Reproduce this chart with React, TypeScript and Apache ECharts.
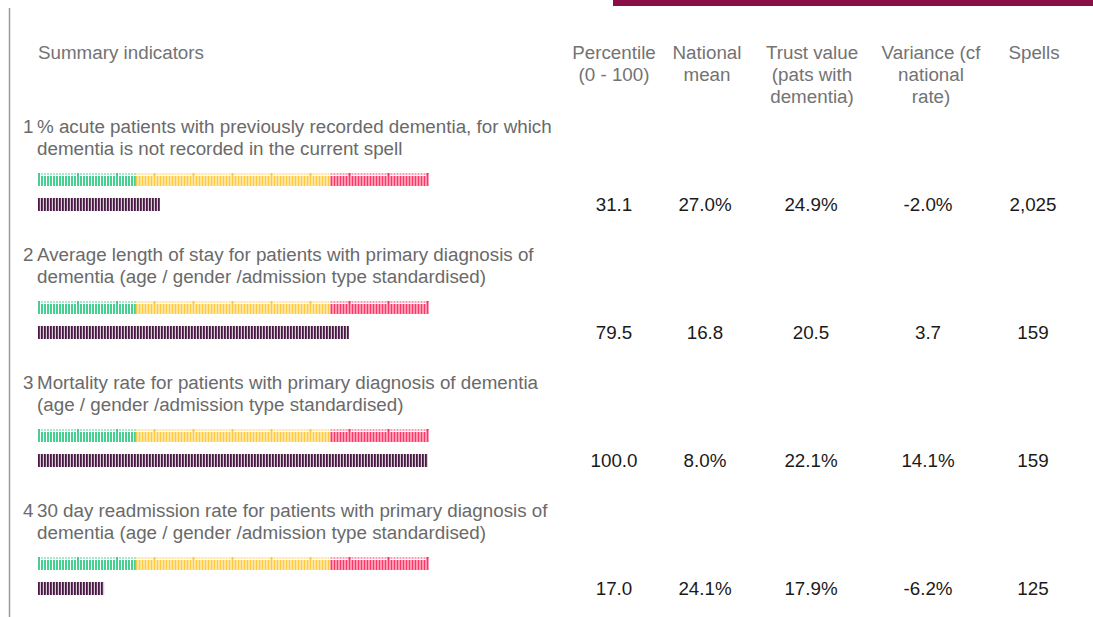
import React, { useEffect, useRef } from "react";
import * as echarts from "echarts";

const headers = [
  { lines: ["Percentile", "(0 - 100)"], x: 614 },
  { lines: ["National", "mean"], x: 707 },
  { lines: ["Trust value", "(pats with", "dementia)"], x: 812 },
  { lines: ["Variance (cf", "national", "rate)"], x: 931 },
  { lines: ["Spells"], x: 1034 },
];
const indicatorTitles = [
  ["% acute patients with previously recorded dementia, for which", "dementia is not recorded in the current spell"],
  ["Average length of stay for patients with primary diagnosis of", "dementia (age / gender /admission type standardised)"],
  ["Mortality rate for patients with primary diagnosis of dementia", "(age / gender /admission type standardised)"],
  ["30 day readmission rate for patients with primary diagnosis of", "dementia (age / gender /admission type standardised)"],
];
const percentiles = [31.1, 79.5, 100.0, 17.0];
const nationalMean = ["27.0%", "16.8", "8.0%", "24.1%"];
const trustValue = ["24.9%", "20.5", "22.1%", "17.9%"];
const variance = ["-2.0%", "3.7", "14.1%", "-6.2%"];
const spells = ["2,025", "159", "159", "125"];
const bandEdges = [0, 25, 75, 100];
const bandColors = ["#34cc84", "#ffc42a", "#ff2458"];
const valueColor = "#4a1846";

const FONT = "Liberation Sans, Arial, sans-serif";
const FS = "18.8px";

export default function App() {
  const ref = useRef<HTMLDivElement>(null);
  useEffect(() => {
    const chart = echarts.init(ref.current!, null, { renderer: "svg" });
    const rowPitch = 128;
    const grids: any[] = [];
    const xAxes: any[] = [];
    const yAxes: any[] = [];
    const series: any[] = [];

    const stripeItem = (isScale: boolean) => (params: any, api: any) => {
      const row = api.value(0);
      const start = api.value(1);
      const end = api.value(2);
      const color = api.value(3) as any;
      const p0 = api.coord([start, row]);
      const p1 = api.coord([end, row]);
      const h = 13;
      const top = Math.round(p0[1] - h / 2);
      const children: any[] = [];
      if (!isScale) {
        children.push({
          type: "rect",
          shape: { x: p0[0], y: top, width: p1[0] - p0[0], height: h },
          style: { fill: "#d9d0d6" },
        });
      }
      let k = Math.round((p0[0] - api.coord([0, row])[0]) / 3);
      for (let x = p0[0]; x < p1[0] - 0.5; x += 3, k++) {
        if (isScale) {
          const big = k % 13 === 0;
          children.push({
            type: "rect",
            shape: { x, y: top, width: 2, height: 2 },
            style: { fill: color, opacity: 0.45 },
          });
          children.push({
            type: "rect",
            shape: { x, y: big ? top : top + 3, width: 2, height: big ? h : h - 3 },
            style: { fill: color, opacity: 0.92 },
          });
        } else {
          children.push({
            type: "rect",
            shape: { x, y: top, width: 1.8, height: h },
            style: { fill: color },
          });
        }
      }
      return { type: "group", children };
    };

    percentiles.forEach((p, i) => {
      grids.push({ left: 38, width: 390, top: 167 + rowPitch * i, height: 50 });
      xAxes.push({ gridIndex: i, type: "value", min: 0, max: 100, show: false });
      yAxes.push({ gridIndex: i, type: "category", data: ["scale", "value"], inverse: true, show: false });
      const scaleData = bandColors.map((c, b) => [0, bandEdges[b], bandEdges[b + 1], c]);
      series.push({
        type: "custom",
        xAxisIndex: i,
        yAxisIndex: i,
        renderItem: stripeItem(true),
        data: scaleData,
        silent: true,
      });
      series.push({
        type: "custom",
        xAxisIndex: i,
        yAxisIndex: i,
        renderItem: stripeItem(false),
        data: [[1, 0, p, valueColor]],
        silent: true,
      });
    });

    const graphic: any[] = [];
    graphic.push({ type: "rect", shape: { x: 613, y: 0, width: 480, height: 6 }, style: { fill: "#8a0f48" } });
    graphic.push({ type: "line", shape: { x1: 9.5, y1: 8, x2: 9.5, y2: 617 }, style: { stroke: "#9a9a9a", lineWidth: 1.5 } });
    graphic.push({
      type: "text", x: 38, y: 52,
      style: { text: "Summary indicators", fill: "#737373", font: `${FS} ${FONT}`, textVerticalAlign: "middle" },
    });
    headers.forEach((h) => {
      h.lines.forEach((l, j) => {
        graphic.push({
          type: "text", x: h.x, y: 52 + 22 * j,
          style: { text: l, fill: "#737373", font: `${FS} ${FONT}`, textAlign: "center", textVerticalAlign: "middle" },
        });
      });
    });
    indicatorTitles.forEach((t, i) => {
      const y0 = 126 + rowPitch * i;
      graphic.push({
        type: "text", x: 23, y: y0,
        style: { text: String(i + 1), fill: "#6a6a6a", font: `${FS} ${FONT}`, textVerticalAlign: "middle" },
      });
      t.forEach((l, j) => {
        graphic.push({
          type: "text", x: 37, y: y0 + 22 * j,
          style: { text: l, fill: "#6a6a6a", font: `${FS} ${FONT}`, textVerticalAlign: "middle" },
        });
      });
      const yv = 204 + rowPitch * i;
      const vals = [percentiles[i].toFixed(1), nationalMean[i], trustValue[i], variance[i], spells[i]];
      const xs = [614, 705, 811, 928, 1033];
      vals.forEach((v, c) => {
        graphic.push({
          type: "text", x: xs[c], y: yv,
          style: { text: v, fill: "#1a1a1a", font: `${FS} ${FONT}`, textAlign: "center", textVerticalAlign: "middle" },
        });
      });
    });

    chart.setOption({
      animation: false,
      grid: grids,
      xAxis: xAxes,
      yAxis: yAxes,
      series,
      graphic,
    });
    return () => chart.dispose();
  }, []);
  return <div ref={ref} style={{ width: 1093, height: 617, position: "absolute", left: 0, top: 0, background: "#fff" }} />;
}
